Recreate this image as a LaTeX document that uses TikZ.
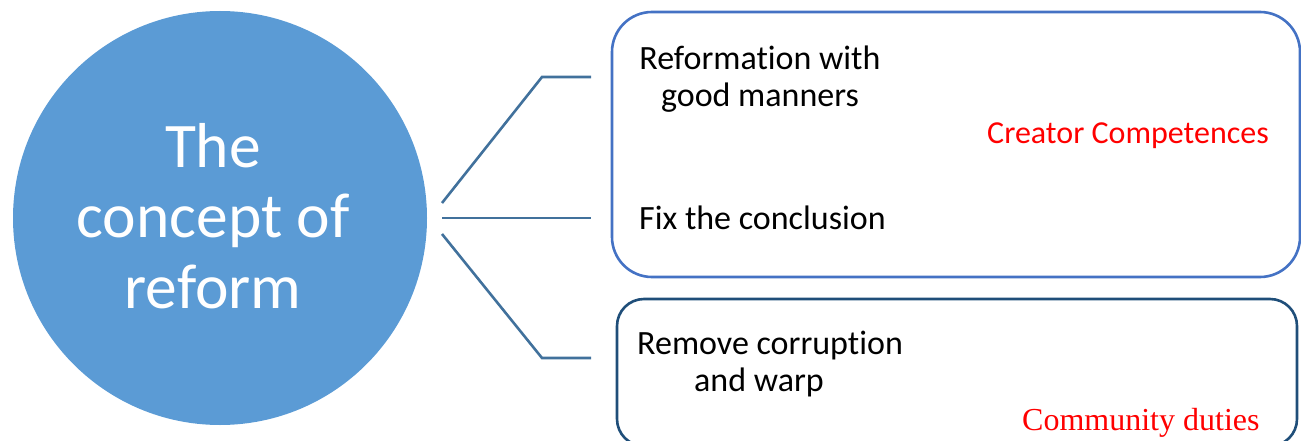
\documentclass[tikz,border=0pt]{standalone}
\usepackage{fontspec}
\setmainfont{Carlito}[Ligatures={NoCommon}]
\newfontfamily\timesfam{Liberation Serif}
\definecolor{circblue}{HTML}{5B9BD5}
\definecolor{linkblue}{HTML}{41719C}
\definecolor{boxblue}{HTML}{4472C4}
\definecolor{boxnavy}{HTML}{1F4E79}
\definecolor{redtxt}{HTML}{FF0000}
\tikzset{
  hub/.style={circle, fill=circblue, draw=none, minimum size=414pt, inner sep=0pt},
  hubtext/.style={text=white, align=center, inner sep=0pt, font=\fontsize{63.5}{70.5}\selectfont},
  link/.style={draw=linkblue, line width=2.6pt},
  topbox/.style={draw=boxblue, line width=2.6pt, rounded corners=40pt, minimum width=688pt, minimum height=265pt, inner sep=0pt},
  botbox/.style={draw=boxnavy, line width=2.6pt, rounded corners=27pt, minimum width=680pt, minimum height=147pt, inner sep=0pt},
  item/.style={inner sep=0pt, text=black, font=\fontsize{34}{37}\selectfont},
  redlabel/.style={inner sep=0pt, text=redtxt, font=\fontsize{32}{37}\selectfont},
}
\begin{document}
\begin{tikzpicture}[x=1pt, y=-1pt]
\useasboundingbox (0,0) rectangle (1301,441);
% hub
\node[hub] (hub) at (220,218) {};
\node[hubtext] (hubt) at (213,216) {The\\concept of\\reform};
% boxes
\node[topbox] (box1) at (956,144.5) {};
\node[botbox] (box2) at (957,372.5) {};
% connectors
\coordinate (s1) at (442,203);
\coordinate (b1) at (542,77);
\coordinate (e1) at (591,77);
\coordinate (s2) at (442,218);
\coordinate (e2) at (591,218);
\coordinate (s3) at (442,234);
\coordinate (b3) at (542,358);
\coordinate (e3) at (591,358);
\draw[link] (s1) -- (b1) -- (e1);
\draw[link] (s2) -- (e2);
\draw[link] (s3) -- (b3) -- (e3);
% texts
\node[item, align=center] (t1) at (760,79) {Reformation with\\good manners};
\node[item, anchor=base west] (t2) at (639,229) {Fix the conclusion};
\node[redlabel, anchor=base west] (r1) at (987,144) {Creator Competences};
\node[item, align=left, anchor=west] (t3) at (637,364) {Remove corruption\\\hspace*{57pt}and warp};
\node[redlabel, anchor=base west, font=\timesfam\fontsize{32}{37}\selectfont] (r2) at (1022,430) {Community duties};
\end{tikzpicture}
\end{document}
